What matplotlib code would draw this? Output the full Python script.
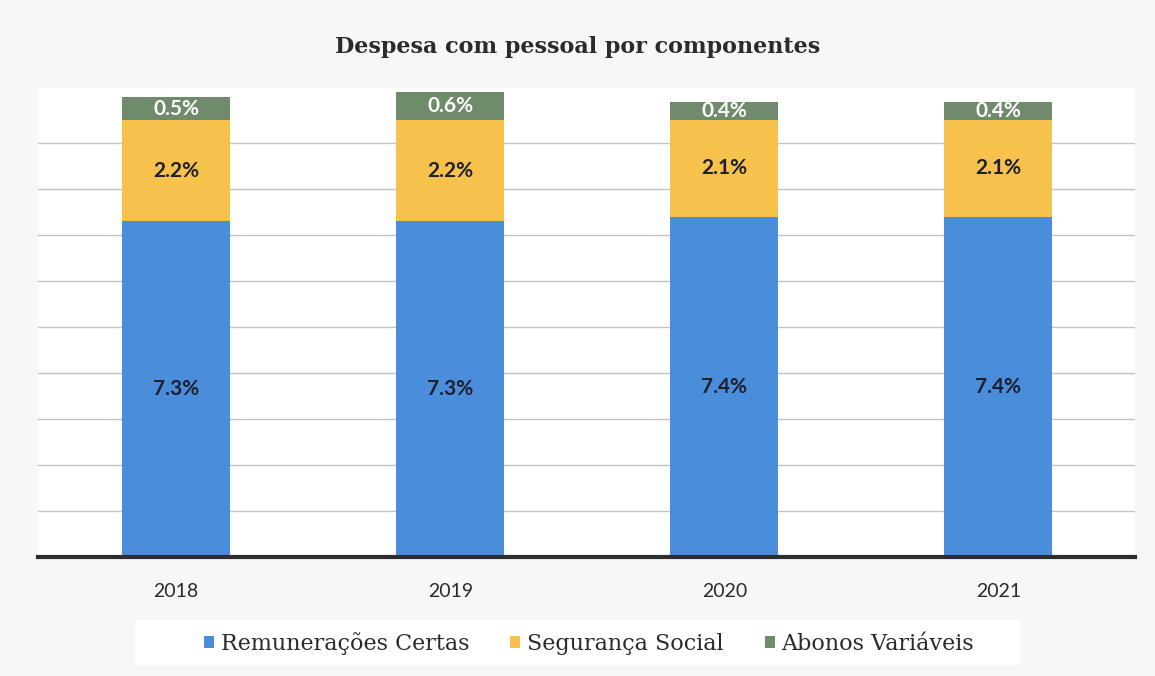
import matplotlib
matplotlib.use("Agg")
import matplotlib.pyplot as plt
from matplotlib.patches import Rectangle
import numpy as np

years = ["2018", "2019", "2020", "2021"]
remuneracoes = [7.3, 7.3, 7.4, 7.4]
seguranca = [2.2, 2.2, 2.1, 2.1]
abonos = [0.5, 0.6, 0.4, 0.4]
series_names = ["Remunerações Certas", "Segurança Social", "Abonos Variáveis"]
colors = ["#4a8ddb", "#f6c24c", "#6f8b6b"]
label_colors = ["#1c1f2e", "#1c1f2e", "white"]

fig = plt.figure(figsize=(11.55, 6.76), dpi=100)
fig.patch.set_facecolor("#f7f7f7")
ax = fig.add_axes([0.033, 0.176, 0.950, 0.694])
ax.set_facecolor("white")

x = np.arange(len(years))
w = 0.394
bottoms = np.zeros(len(years))
for vals, name, c, lc in zip([remuneracoes, seguranca, abonos], series_names, colors, label_colors):
    ax.bar(x, vals, w, bottom=bottoms, color=c, label=name, zorder=3)
    for xi, b, v in zip(x, bottoms, vals):
        ax.text(xi, b + v / 2, f"{v:.1f}%", ha="center", va="center",
                color=lc, fontsize=15, fontweight="bold", family="Lato", zorder=4)
    bottoms = bottoms + np.array(vals)

ax.set_xlim(-0.504, 3.50)
ax.set_ylim(0, 10.2)
ax.set_yticks(range(0, 10))
ax.yaxis.grid(True, color="#c2c2c2", linewidth=1.0, zorder=0)
ax.tick_params(axis="y", left=False, labelleft=False)
ax.tick_params(axis="x", bottom=False, pad=15)
ax.set_xticks(x)
ax.set_xticklabels(years, fontsize=14, family="Lato", color="#2a2a2a")
for s in ["top", "right", "left"]:
    ax.spines[s].set_visible(False)
ax.spines["bottom"].set_color("#2d2d2d")
ax.spines["bottom"].set_linewidth(3)
ax.spines["bottom"].set_zorder(5)

fig.text(0.5, 0.93, "Despesa com pessoal por componentes", ha="center", va="center",
         fontsize=16, fontweight="bold", family="DejaVu Serif", color="#2b2b2b")

# white legend panel
fig.patches.append(Rectangle((135 / 1155, 1 - 665 / 676), (1020 - 135) / 1155, 45 / 676,
                             transform=fig.transFigure, facecolor="white",
                             edgecolor="none", zorder=0))

leg = fig.legend(loc="center", bbox_to_anchor=(0.51, 0.048), ncol=3, frameon=False,
                 prop={"family": "DejaVu Serif", "size": 16}, handlelength=0.45,
                 handleheight=0.45, handletextpad=0.3, columnspacing=1.85,
                 borderpad=0.3)
for t in leg.get_texts():
    t.set_color("#2a2a2a")

fig.savefig("out.png", dpi=100, facecolor=fig.get_facecolor())
